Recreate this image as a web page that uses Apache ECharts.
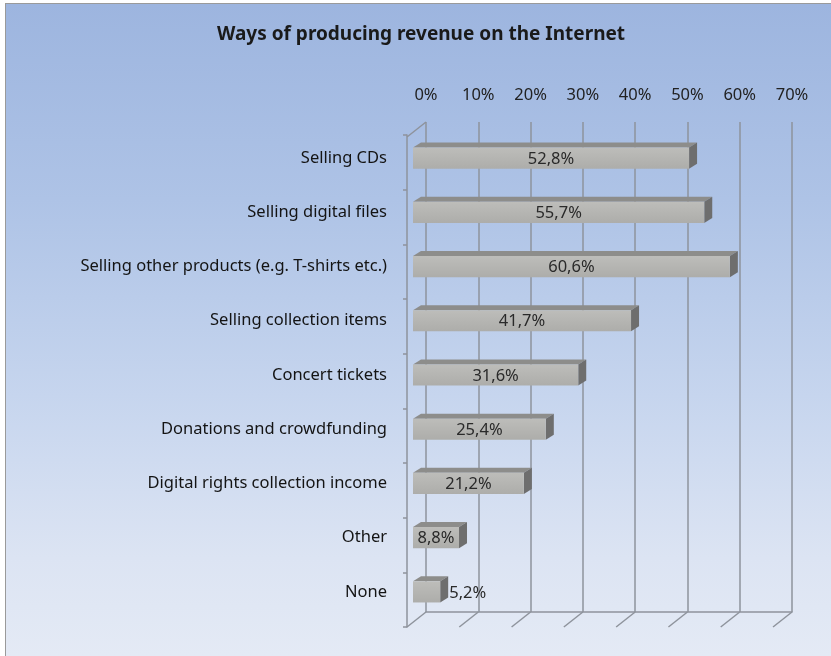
<!DOCTYPE html>
<html>
<head>
<meta charset="utf-8">
<script src="https://cdn.jsdelivr.net/npm/echarts@6/dist/echarts.min.js"></script>
<style>
  html, body { margin:0; padding:0; background:#ffffff; }
  #bg { position:absolute; left:5px; top:3px; width:826px; height:653px;
        border-left:1px solid #9a9a9a; border-top:1px solid #9a9a9a; box-sizing:border-box;
        background: linear-gradient(to bottom, #9db5df 0%, #aec3e6 30%, #c6d5ee 60%, #dce4f3 85%, #e4eaf5 100%); }
  #main { position:absolute; left:0; top:0; width:831px; height:656px; }
</style>
</head>
<body>
<div id="bg"></div>
<div id="main"></div>
<script>
const title = 'Ways of producing revenue on the Internet';
const categories = [
  'Selling CDs',
  'Selling digital files',
  'Selling other products (e.g. T-shirts etc.)',
  'Selling collection items',
  'Concert tickets',
  'Donations and crowdfunding',
  'Digital rights collection income',
  'Other',
  'None'
];
const values = [52.8, 55.7, 60.6, 41.7, 31.6, 25.4, 21.2, 8.8, 5.2];
const xTicks = [0, 10, 20, 30, 40, 50, 60, 70];

const FONT = 'Noto Sans';
const FS = 16.5;
const GRID_COLOR = '#8e939c';
const DEPTH = [-19, 15];      // back wall -> front wall offset
const BAR_DEPTH = [8, -5];    // bar front face -> bar back face offset

const chart = echarts.init(document.getElementById('main'), null, {renderer: 'canvas'});

function fmt(v) { return v.toFixed(1).replace('.', ',') + '%'; }

const option = {
  backgroundColor: 'transparent',
  animation: false,
  textStyle: { fontFamily: FONT },
  title: {
    text: title, left: 212, top: 20, padding: 5,
    textStyle: { fontFamily: FONT, fontSize: 19, fontWeight: 'bold', color: '#1a1a1a' }
  },
  grid: [
    { left: 426, top: 122, width: 366, height: 490 },
    { left: 407, top: 135, width: 366, height: 492 },
    { left: 413, top: 131, width: 366, height: 488 }
  ],
  xAxis: [
    { gridIndex: 0, type: 'value', position: 'top', min: 0, max: 70, interval: 10,
      axisLabel: { formatter: '{value}%', margin: 18, fontSize: FS, color: '#222', fontFamily: FONT },
      axisLine: { show: true, lineStyle: { color: GRID_COLOR, width: 1.5 } },
      axisTick: { show: false },
      splitLine: { show: true, lineStyle: { color: GRID_COLOR, width: 1.5 } } },
    { gridIndex: 1, type: 'value', min: 0, max: 70, show: false },
    { gridIndex: 2, type: 'value', min: 0, max: 70, show: false }
  ],
  yAxis: [
    { gridIndex: 0, type: 'value', min: 0, max: 1, show: false },
    { gridIndex: 1, type: 'category', data: categories, inverse: true,
      axisLine: { show: true, lineStyle: { color: GRID_COLOR, width: 1.5 } },
      axisTick: { show: true, inside: false, length: 4, lineStyle: { color: GRID_COLOR, width: 1.5 } },
      axisLabel: { show: false }, splitLine: { show: false } },
    { gridIndex: 2, type: 'category', data: categories, inverse: true,
      axisLine: { show: false }, axisTick: { show: false }, splitLine: { show: false },
      axisLabel: { fontSize: FS, color: '#141414', margin: 26, fontFamily: FONT } }
  ],
  series: [
    {
      type: 'custom', xAxisIndex: 0, yAxisIndex: 0, silent: true,
      data: xTicks.map(v => [v]),
      renderItem: function (params, api) {
        const v = api.value(0);
        const p = api.coord([v, 0]);
        const children = [{
          type: 'line',
          shape: { x1: p[0], y1: p[1], x2: p[0] + DEPTH[0], y2: p[1] + DEPTH[1] },
          style: { stroke: GRID_COLOR, lineWidth: 1.5 }
        }];
        if (v === 0) {
          const t = api.coord([0, 1]);
          children.push({
            type: 'line',
            shape: { x1: t[0], y1: t[1], x2: t[0] + DEPTH[0], y2: t[1] + DEPTH[1] },
            style: { stroke: GRID_COLOR, lineWidth: 1.5 }
          });
        }
        return { type: 'group', children: children };
      }
    },
    {
      type: 'custom', xAxisIndex: 2, yAxisIndex: 2, silent: true,
      data: values.map((v, i) => [v, i]),
      renderItem: function (params, api) {
        const v = api.value(0);
        const idx = api.value(1);
        const s = api.coord([0, idx]);
        const e = api.coord([v, idx]);
        const h = api.size([0, 1])[1] * 0.39;
        const x0 = s[0], x1 = e[0];
        const top = s[1] - h / 2, bot = s[1] + h / 2;
        const dx = BAR_DEPTH[0], dy = BAR_DEPTH[1];
        const w = x1 - x0;
        const label = fmt(v);
        const inside = w >= 42;
        return {
          type: 'group',
          children: [
            { type: 'polygon', shape: { points: [[x0, top], [x0 + dx, top + dy], [x1 + dx, top + dy], [x1, top]] },
              style: { fill: '#8d8d8b' } },
            { type: 'polygon', shape: { points: [[x1, top], [x1 + dx, top + dy], [x1 + dx, bot + dy], [x1, bot]] },
              style: { fill: '#6e6e6e' } },
            { type: 'rect', shape: { x: x0, y: top, width: w, height: h },
              style: { fill: new echarts.graphic.LinearGradient(0, 0, 0, 1, [
                { offset: 0, color: '#bdbdba' }, { offset: 1, color: '#adadaa' }]) } },
            { type: 'text',
              x: inside ? (x0 + x1) / 2 : x1 + dx + 1, y: s[1] + 1,
              style: { text: label, fill: '#2a2a2a', fontSize: FS, fontFamily: FONT,
                       align: inside ? 'center' : 'left', verticalAlign: 'middle' } }
          ]
        };
      }
    }
  ]
};
chart.setOption(option);
</script>
</body>
</html>
